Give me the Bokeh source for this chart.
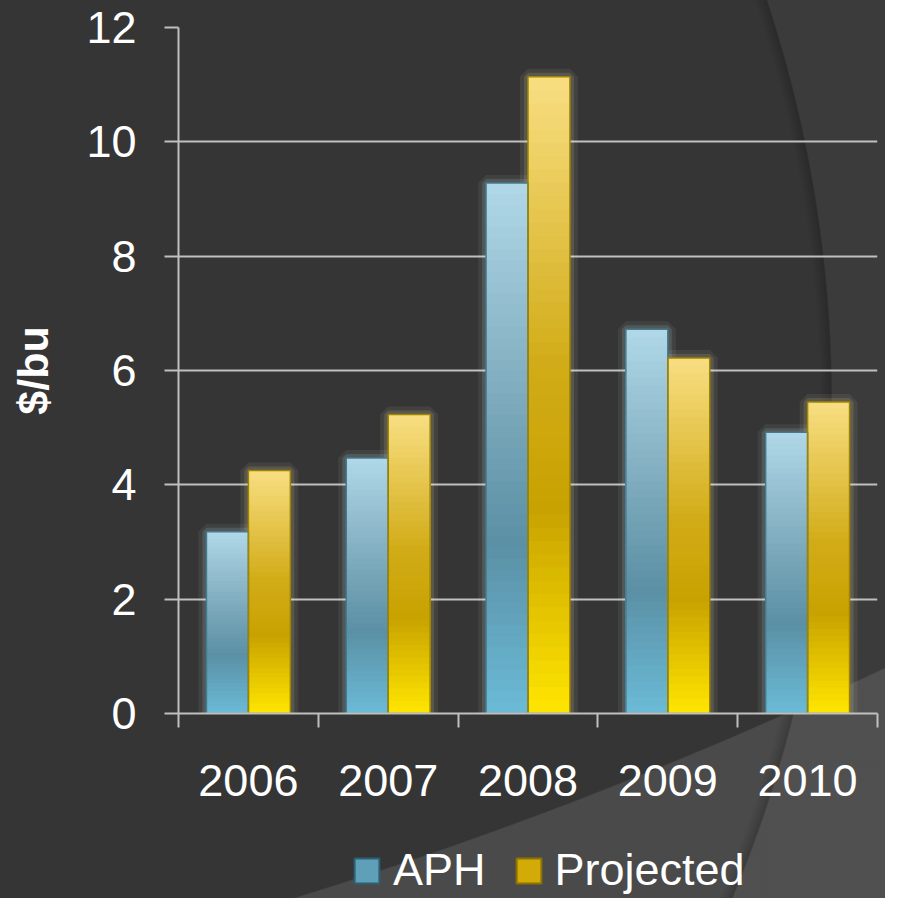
import numpy as np
from bokeh.plotting import figure
from bokeh.layouts import column
from bokeh.models import FixedTicker, Range1d, Legend, LegendItem, ColumnDataSource
from bokeh.embed import file_html
from bokeh.resources import INLINE

# ---- data ----
years = ["2006", "2007", "2008", "2009", "2010"]
aph = [3.18, 4.47, 9.28, 6.72, 4.92]
projected = [4.25, 5.23, 11.14, 6.22, 5.45]
y_ticks = [0, 2, 4, 6, 8, 10, 12]

FONT = "Liberation Sans"
GRID = "#c0c0c0"

p = figure(width=885, height=823, output_backend="svg", toolbar_location=None,
           x_range=Range1d(0, len(years)), y_range=Range1d(0, 12),
           frame_width=699, frame_height=686,
           min_border_left=178, min_border_right=8, min_border_top=27, min_border_bottom=110)
p.background_fill_color = None
p.border_fill_color = None
p.outline_line_color = None

# ---- gradient helper ----
def grad(stops, t):
    ts = [s[0] for s in stops]
    cols = [np.array([int(s[1][i:i + 2], 16) for i in (1, 3, 5)], float) for s in stops]
    out = []
    for tv in t:
        for j in range(len(ts) - 1):
            if ts[j] <= tv <= ts[j + 1]:
                f = (tv - ts[j]) / (ts[j + 1] - ts[j])
                c = cols[j] * (1 - f) + cols[j + 1] * f
                out.append("#%02x%02x%02x" % tuple(int(round(v)) for v in c))
                break
    return out

aph_stops = [(0.0, "#b0d8e8"), (0.4, "#7eabbd"), (0.68, "#5b90a5"), (1.0, "#6bbbd7")]
proj_stops = [(0.0, "#f8de82"), (0.45, "#d2ac18"), (0.68, "#c8a200"), (1.0, "#ffe600")]

N = 48
W = 0.3
xc = np.arange(len(years)) + 0.5
x_aph = xc - W / 2
x_proj = xc + W / 2

def layers(xs, vals, stops):
    # tallest layer first, each shorter layer drawn over it -> seamless stepped gradient
    xx, tt, cc = [], [], []
    k = np.arange(N)[::-1]
    colors = grad(stops, list(1 - (k + 0.5) / N))
    for x, v in zip(xs, vals):
        xx += [x] * N
        tt += list(v * (k + 1) / N)
        cc += colors
    return ColumnDataSource(dict(x=xx, top=tt, color=cc))

# glow
for xs, vals, gc in [(x_aph, aph, "#d8eef6"), (x_proj, projected, "#fff4c8")]:
    p.vbar(x=xs, top=vals, width=W, fill_color=None, line_color=gc, line_alpha=0.07, line_width=16)
    p.vbar(x=xs, top=vals, width=W, fill_color=None, line_color=gc, line_alpha=0.12, line_width=8)

# gradient bars
for xs, vals, st in [(x_aph, aph, aph_stops), (x_proj, projected, proj_stops)]:
    p.vbar(x="x", top="top", width=W, fill_color="color", line_color=None, source=layers(xs, vals, st))

# outlines
p.vbar(x=x_aph, top=aph, width=W, fill_color=None, line_color="#457b90", line_width=1.5)
p.vbar(x=x_proj, top=projected, width=W, fill_color=None, line_color="#a08400", line_width=1.5)

# axes
p.xaxis.ticker = FixedTicker(ticks=list(xc), minor_ticks=list(range(len(years) + 1)))
p.xaxis.major_label_overrides = {float(x): y for x, y in zip(xc, years)}
p.xaxis.major_tick_line_color = None
p.xaxis.major_tick_out = 0
p.xaxis.major_tick_in = 0
p.xaxis.minor_tick_line_color = GRID
p.xaxis.minor_tick_line_width = 2
p.xaxis.minor_tick_out = 14
p.xaxis.minor_tick_in = 0
p.xaxis.major_label_standoff = 37

p.yaxis.ticker = FixedTicker(ticks=y_ticks)
p.yaxis.minor_tick_line_color = None
p.yaxis.major_tick_line_color = GRID
p.yaxis.major_tick_line_width = 2
p.yaxis.major_tick_out = 14
p.yaxis.major_tick_in = 0
p.yaxis.major_label_standoff = 28
p.yaxis.axis_label = "$/bu"
p.yaxis.axis_label_text_font = FONT
p.yaxis.axis_label_text_font_size = "43px"
p.yaxis.axis_label_text_font_style = "bold"
p.yaxis.axis_label_text_color = "white"
p.yaxis.axis_label_standoff = 26

for ax in (p.xaxis, p.yaxis):
    ax.axis_line_color = GRID
    ax.axis_line_width = 2
    ax.major_label_text_font = FONT
    ax.major_label_text_font_size = "45px"
    ax.major_label_text_color = "white"

p.xgrid.grid_line_color = None
p.ygrid.grid_line_color = GRID
p.ygrid.grid_line_width = 2
p.ygrid.ticker = FixedTicker(ticks=y_ticks[1:])

# ---- legend strip (hidden copies of the series supply the legend glyphs) ----
p2 = figure(width=885, height=75, output_backend="svg", toolbar_location=None,
            x_axis_type=None, y_axis_type=None, min_border=0,
            x_range=Range1d(0, len(years)), y_range=Range1d(0, 12))
p2.background_fill_color = None
p2.border_fill_color = None
p2.outline_line_color = None
r_aph = p2.vbar(x=x_aph, top=aph, width=W, fill_color="#5fa0b8", line_color="#2c5f73",
                line_width=2, visible=False)
r_proj = p2.vbar(x=x_proj, top=projected, width=W, fill_color="#d2ab08", line_color="#8d7200",
                 line_width=2, visible=False)
legend = Legend(items=[LegendItem(label="APH", renderers=[r_aph]),
                       LegendItem(label="Projected", renderers=[r_proj])],
                orientation="horizontal", location=(173, 2),
                background_fill_alpha=0, border_line_color=None,
                inactive_fill_alpha=0,
                label_text_font=FONT, label_text_font_size="45px", label_text_color="white",
                glyph_width=31, glyph_height=31, label_standoff=11, spacing=27,
                padding=0, margin=0)
p2.add_layout(legend, "center")

bg = ("radial-gradient(circle 1284px at -452px 403px, rgba(0,0,0,0) 1271px, "
      "rgba(0,0,0,0.2) 1283px, rgba(255,255,255,0.03) 1284.5px), "
      "radial-gradient(circle 4387px at -998px -3294px, rgba(0,0,0,0) 4386px, #4a4a4a 4387.5px), "
      "#353535")
layout = column(p, p2, spacing=0, styles={"background": bg})

open("out.html", "w").write(file_html(layout, INLINE))
